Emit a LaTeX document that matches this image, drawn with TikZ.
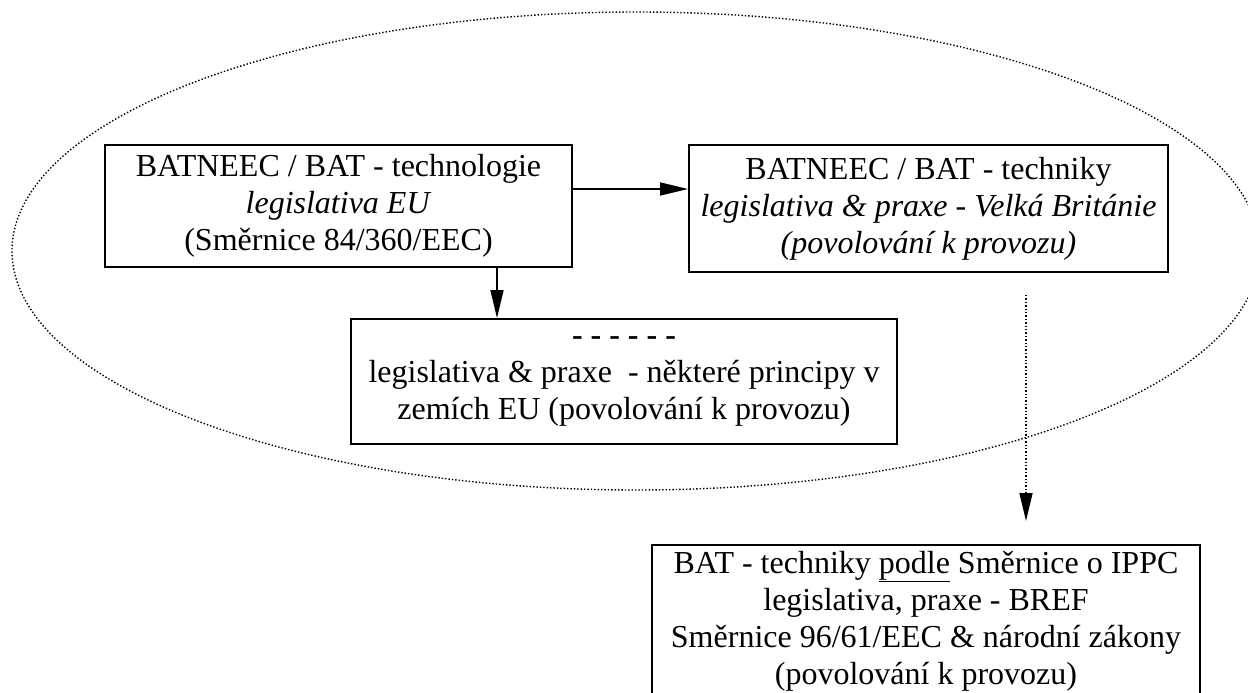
\documentclass[tikz,border=0pt]{standalone}
\usepackage{fontspec}
\setmainfont{Liberation Serif}
\usetikzlibrary{arrows.meta,shapes.geometric}
\begin{document}
\begin{tikzpicture}[x=1pt,y=-1pt,
  box/.style={draw, line width=2pt, align=center, inner sep=0pt, font=\fontsize{32}{37}\selectfont},
  arr/.style={line width=1.6pt, -{Triangle[length=28pt,width=13pt]}},
  darr/.style={line width=1.4pt, dotted, -{Triangle[length=28pt,width=13pt]}}]
\useasboundingbox (0,0) rectangle (1248,693);
\node[ellipse, draw, dotted, line width=1.4pt, minimum width=1248pt, minimum height=478pt, inner sep=0pt] (ell) at (636,251) {};
\node[box, minimum width=467pt, minimum height=122pt] (b1) at (338.5,206)
  {BATNEEC / BAT - technologie\\ \textit{legislativa EU}\\ (Směrnice 84/360/EEC)};
\node[box, minimum width=479pt, minimum height=127pt] (b2) at (928.5,208.5)
  {BATNEEC / BAT - techniky\\ \textit{legislativa \& praxe - Velká Británie}\\ \textit{(povolování k provozu)}};
\node[box, minimum width=546pt, minimum height=125pt] (b3) at (624,381.5)
  {\textbf{- - - - - -}\\ legislativa \& praxe~ - některé principy v\\ zemích EU (povolování k provozu)};
\node[box, minimum width=548pt, minimum height=152pt] (b4) at (926,621)
  {BAT - techniky \underline{podle} Směrnice o IPPC\\ legislativa, praxe - BREF\\ Směrnice 96/61/EEC \& národní zákony\\ (povolování k provozu)};
\coordinate (y1) at (0,189);
\coordinate (x2) at (497,0);
\coordinate (d1) at (1026,295);
\coordinate (d2) at (1026,521);
\draw[arr] (b1.east |- y1) -- (b2.west |- y1);
\draw[arr] (b1.south -| x2) -- (b3.north -| x2);
\draw[darr] (d1) -- (d2);
\end{tikzpicture}
\end{document}
